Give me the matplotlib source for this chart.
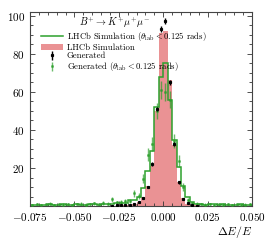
import numpy as np
import matplotlib
matplotlib.use("Agg")
import matplotlib.pyplot as plt
from matplotlib.ticker import MultipleLocator, FixedLocator, FuncFormatter

plt.rcParams['font.family'] = 'serif'
plt.rcParams['font.serif'] = ['cmr10']
plt.rcParams['mathtext.fontset'] = 'cm'
plt.rcParams['axes.formatter.use_mathtext'] = True

# bin edges of dE/E (width 0.0025)
bin_edges = np.linspace(-0.075, 0.05, 51)

# LHCb Simulation (filled)
sim_all = [0.1, 0.1, 0.1, 0.1, 0.1, 0.1, 0.1, 0.1, 0.1, 0.1, 0.1, 0.1, 0.1, 0.1, 0.1, 0.1, 0.1, 0.1,
           0.2, 0.2, 0.3, 0.4, 0.6, 1.0, 2.0, 4.5, 10.5, 21.0, 50.0, 91.0, 92.0, 66.0, 32.0, 12.5,
           4.0, 1.3, 0.5, 0.3, 0.2, 0.1, 0.1, 0.1, 0.1, 0.1, 0.1, 0.1, 0.1, 0.1, 0.1, 0.1]

# LHCb Simulation (theta_lab < 0.125 rads), step line
sim_cut = [0.6, 0.8, 0.5, 0.7, 0.9, 0.6, 0.8, 1.0, 0.7, 0.5, 0.9, 0.8, 0.6, 1.1, 0.9, 0.7, 1.2, 1.0,
           1.3, 1.5, 1.6, 1.4, 3.0, 3.2, 5.0, 9.5, 18.5, 29.0, 52.0, 68.0, 75.0, 56.0, 34.5, 20.5,
           10.5, 5.0, 2.0, 1.0, 1.2, 0.8, 0.9, 1.0, 0.7, 0.9, 0.6, 0.8, 0.7, 0.9, 0.6, 0.8]

# Generated (black points), bins 18..37
gen_bins = list(range(18, 38))
gen_vals = [0.2, 0.3, 0.3, 0.5, 0.5, 1.0, 2.0, 4.3, 10.0, 22.0, 51.0, 93.0, 97.5, 65.0, 32.7,
            12.4, 3.7, 1.4, 0.4, 0.2]
gen_err = [0.1, 0.1, 0.1, 0.2, 0.2, 0.3, 0.4, 0.5, 0.7, 0.9, 1.2, 1.5, 1.6, 1.3, 0.9,
           0.6, 0.4, 0.3, 0.1, 0.1]

# Generated (theta_lab < 0.125 rads), green points
gcut_vals = [0.8, 1.0, 0.6, 0.9, 1.2, 0.7, 1.0, 0.8, 1.1, 0.6, 0.9, 1.3, 0.8, 1.0, 1.4, 0.9, 1.6, 1.2,
             3.5, 1.9, 2.3, 2.6, 2.8, 6.6, 5.2, 14.3, 27.0, 32.5, 50.0, 61.0, 60.0, 56.0, 34.0, 23.5,
             10.0, 3.0, 1.5, 1.2, 0.9, 0.8, 1.0, 0.7, 0.9, 0.8, 1.0, 0.6, 0.9, 0.7, 0.8, 0.9]
gcut_err = [0.5, 0.6, 0.5, 0.6, 0.7, 0.5, 0.6, 0.6, 0.7, 0.5, 0.6, 0.7, 0.6, 0.6, 0.7, 0.6, 0.8, 0.7,
            1.2, 0.9, 1.0, 1.1, 1.1, 1.6, 1.5, 2.4, 3.3, 3.6, 4.4, 4.9, 4.9, 4.7, 3.7, 3.1,
            2.0, 1.1, 0.8, 0.7, 0.6, 0.6, 0.6, 0.5, 0.6, 0.6, 0.6, 0.5, 0.6, 0.5, 0.6, 0.6]

centers = 0.5 * (bin_edges[:-1] + bin_edges[1:])
green = '#2ca02c'
pink = '#ea9294'

fig = plt.figure(figsize=(2.74, 2.45), dpi=100)
ax = fig.add_axes([0.1095, 0.159, 0.8105, 0.792])

h_pink = ax.stairs(sim_all, bin_edges, fill=True, color=pink, label='LHCb Simulation', zorder=1)
h_line = ax.stairs(sim_cut, bin_edges, color=green, lw=1.1,
                   label=r'LHCb Simulation ($\theta_{\rm lab} < 0.125$ rads)', zorder=2)
h_gen = ax.errorbar(centers[gen_bins], gen_vals, yerr=gen_err, fmt='s', color='black',
                    ms=1.3, elinewidth=1.0, capsize=0, label='Generated', zorder=4)
h_gcut = ax.errorbar(centers, gcut_vals, yerr=gcut_err, fmt='s', color=green, alpha=0.7,
                     ms=1.0, elinewidth=1.0, capsize=0,
                     label=r'Generated ($\theta_{\rm lab} < 0.125$ rads)', zorder=3)

ax.set_xlim(-0.075, 0.05)
ax.set_ylim(0, 102)
ax.xaxis.set_major_locator(FixedLocator([-0.075, -0.05, -0.025, 0.0, 0.025, 0.05]))
ax.xaxis.set_minor_locator(MultipleLocator(0.005))
ax.xaxis.set_major_formatter(FuncFormatter(lambda v, p: r'$%.3f$' % (0.0 if abs(v) < 1e-9 else v)))
ax.yaxis.set_major_locator(FixedLocator([20, 40, 60, 80, 100]))
ax.yaxis.set_minor_locator(MultipleLocator(5))
ax.yaxis.set_major_formatter(FuncFormatter(lambda v, p: r'$%d$' % v))
ax.tick_params(which='both', direction='in', top=True, right=True, labelsize=8, width=0.6,
               colors='#333333', labelcolor='black')
ax.tick_params(which='major', length=3.5)
ax.tick_params(which='minor', length=2)
for s in ax.spines.values():
    s.set_linewidth(0.8)
    s.set_color('#444444')
ax.set_xlabel(r'$\Delta E/E$', fontsize=8.5, loc='right', labelpad=1)

ax.text(0.378, 0.945, r'$B^{+}\to K^{+}\mu^{+}\mu^{-}$', transform=ax.transAxes,
        fontsize=7.2, ha='center', va='center', zorder=10)

leg = ax.legend([h_line, h_pink, h_gen, h_gcut],
                [h_line.get_label(), h_pink.get_label(), h_gen.get_label(), h_gcut.get_label()],
                loc='upper left', bbox_to_anchor=(0.048, 0.905), frameon=False, fontsize=6.3,
                handlelength=2.5, handletextpad=0.5, labelspacing=0.0, borderpad=0.0,
                borderaxespad=0.0)
leg.set_zorder(10)

fig.savefig('out.png', dpi=100)
